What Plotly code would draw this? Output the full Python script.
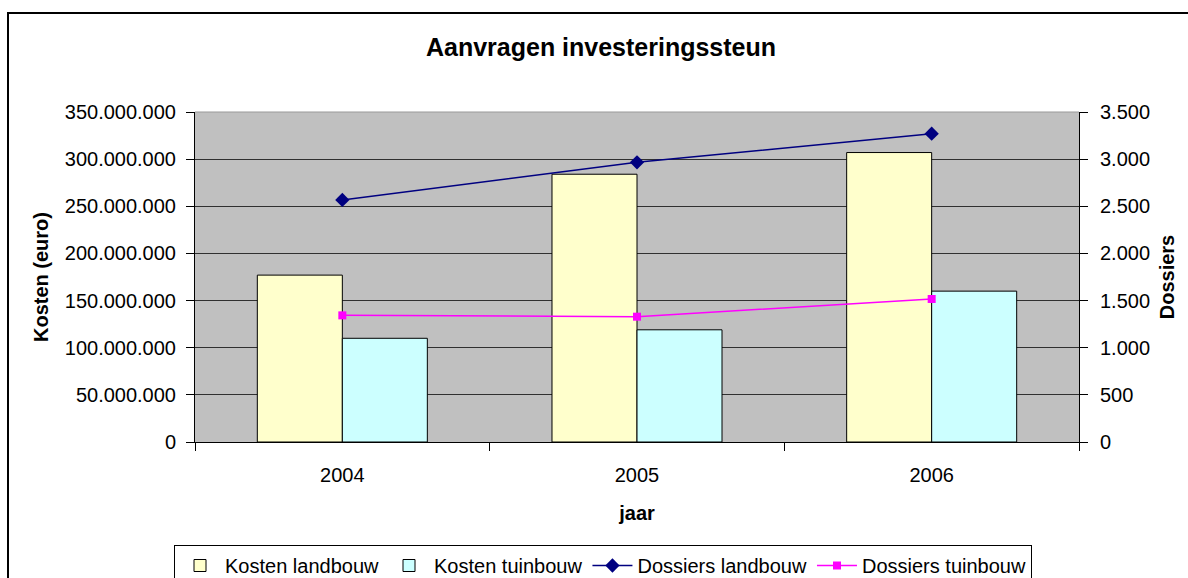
import plotly.graph_objects as go

# Data
jaren = ["2004", "2005", "2006"]
kosten_landbouw = [177_000_000, 284_000_000, 307_000_000]
kosten_tuinbouw = [110_000_000, 119_000_000, 160_000_000]
dossiers_landbouw = [2567, 2966, 3270]
dossiers_tuinbouw = [1343, 1329, 1517]

kosten_ticks = [0, 50_000_000, 100_000_000, 150_000_000, 200_000_000,
                250_000_000, 300_000_000, 350_000_000]
dossier_ticks = [0, 500, 1000, 1500, 2000, 2500, 3000, 3500]

FONT = "Liberation Sans, Arial, sans-serif"

# Figure geometry (pixels)
W, H = 1188, 578
PL, PR, PT, PB = 195, 1079, 112, 442


def px_x(x):
    return (x - PL) / (PR - PL)


def px_y(y):
    return (PB - y) / (PB - PT)


fig = go.Figure()

fig.add_trace(go.Bar(
    x=jaren, y=kosten_landbouw, name="Kosten landbouw",
    marker=dict(color="#FFFFCC", line=dict(color="black", width=1)),
))
fig.add_trace(go.Bar(
    x=jaren, y=kosten_tuinbouw, name="Kosten tuinbouw",
    marker=dict(color="#CCFFFF", line=dict(color="black", width=1)),
))
fig.add_trace(go.Scatter(
    x=jaren, y=dossiers_landbouw, name="Dossiers landbouw", yaxis="y2",
    mode="lines+markers",
    line=dict(color="#000080", width=1.5),
    marker=dict(symbol="diamond", size=11, color="#000080"),
))
fig.add_trace(go.Scatter(
    x=jaren, y=dossiers_tuinbouw, name="Dossiers tuinbouw", yaxis="y2",
    mode="lines+markers",
    line=dict(color="#FF00FF", width=1.5),
    marker=dict(symbol="square", size=8, color="#FF00FF"),
))

fig.update_layout(
    width=W, height=H,
    margin=dict(l=PL, r=W - PR, t=PT, b=H - PB, pad=0, autoexpand=False),
    paper_bgcolor="white",
    plot_bgcolor="#C0C0C0",
    separators=",.",
    font=dict(family=FONT, size=20, color="black"),
    barmode="group",
    bargap=0.423,
    bargroupgap=0,
    title=dict(
        text="<b>Aanvragen investeringssteun</b>",
        font=dict(family=FONT, size=25, color="black"),
        x=601 / W, xanchor="center", xref="container",
        y=1 - 47 / H, yanchor="middle", yref="container",
    ),
    xaxis=dict(
        type="category",
        automargin=False,
        showgrid=False,
        showline=True, linecolor="black", linewidth=1,
        ticks="outside", tickson="boundaries", ticklen=8, tickcolor="black",
        ticklabelstandoff=15,
        tickfont=dict(size=20),
        title=dict(text="<b>jaar</b>", font=dict(size=20), standoff=20),
    ),
    yaxis=dict(
        range=[0, 350_000_000],
        automargin=False,
        tickvals=kosten_ticks,
        tickformat=",d",
        showgrid=True, gridcolor="#303030", gridwidth=1,
        showline=True, linecolor="black", linewidth=1,
        ticks="outside", ticklen=8, tickcolor="black",
        ticklabelstandoff=6,
        zeroline=False,
        tickfont=dict(size=20),
        title=dict(text="<b>Kosten (euro)</b>", font=dict(size=20), standoff=10),
    ),
    yaxis2=dict(
        overlaying="y", side="right",
        automargin=False,
        range=[0, 3500],
        tickvals=dossier_ticks,
        tickformat=",d",
        showgrid=False,
        showline=True, linecolor="black", linewidth=1,
        ticks="outside", ticklen=8, tickcolor="black",
        ticklabelstandoff=8,
        zeroline=False,
        tickfont=dict(size=20),
        title=dict(text="<b>Dossiers</b>", font=dict(size=20), standoff=10),
    ),
    legend=dict(
        orientation="h",
        xref="container", yref="container",
        x=603 / W, xanchor="center",
        y=1 - 545 / H, yanchor="top",
        bordercolor="black", borderwidth=1,
        bgcolor="white",
        font=dict(size=20),
        traceorder="normal",
        itemwidth=40,
    ),
    shapes=[
        # outer chart frame
        dict(type="rect", xref="paper", yref="paper",
             x0=px_x(8), x1=px_x(1210), y0=px_y(13), y1=px_y(600),
             line=dict(color="black", width=2), fillcolor="rgba(0,0,0,0)"),
        # top edge of the plot area
        dict(type="line", xref="paper", yref="paper",
             x0=0, x1=1, y0=1, y1=1,
             line=dict(color="#999999", width=1)),
    ],
)

fig.write_html("out.html")
